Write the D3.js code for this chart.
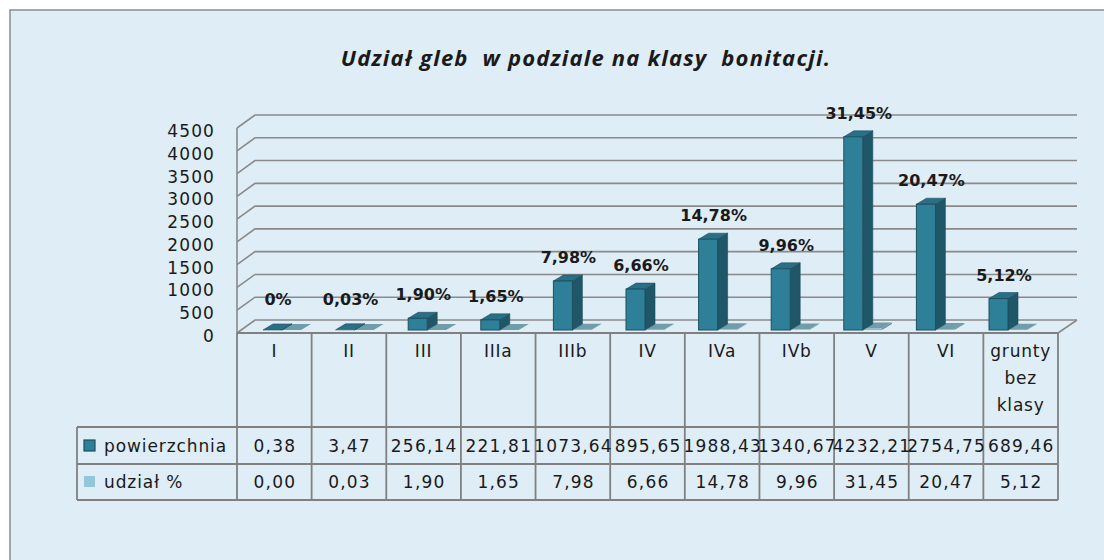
<!DOCTYPE html>
<html>
<head>
<meta charset="utf-8">
<script src="https://cdn.jsdelivr.net/npm/d3@7"></script>
<style>
body { margin: 0; background: #ffffff; }
text { font-family: "DejaVu Sans", sans-serif; fill: #1a1a1a; }
</style>
</head>
<body>
<script>
// chart data
const categories = ["I", "II", "III", "IIIa", "IIIb", "IV", "IVa", "IVb", "V", "VI", "grunty bez klasy"];
const powierzchnia = [0.38, 3.47, 256.14, 221.81, 1073.64, 895.65, 1988.43, 1340.67, 4232.21, 2754.75, 689.46];
const udzial = [0.00, 0.03, 1.90, 1.65, 7.98, 6.66, 14.78, 9.96, 31.45, 20.47, 5.12];
const yTicks = [0, 500, 1000, 1500, 2000, 2500, 3000, 3500, 4000, 4500];
const seriesNames = ["powierzchnia", "udział %"];

function d3Draw() {
const width = 1104;
const height = 560;

const pl = d3.formatLocale({decimal: ",", thousands: "", grouping: [3], currency: ["", ""]});
const f2 = pl.format(".2f");

const svg = d3
	.select("body")
	.append("svg")
	.attr("width", width)
	.attr("height", height);

// chart area background + frame
svg.append("rect")
	.attr("x", 10).attr("y", 10)
	.attr("width", width).attr("height", height)
	.attr("fill", "#deedf6")
	.attr("stroke", "#8c8c8c")
	.attr("stroke-width", 1.5);

svg.append("text")
	.attr("x", 586).attr("y", 66)
	.attr("text-anchor", "middle")
	.style("font-family", "'Open Sans', sans-serif")
	.style("font-size", "22px")
	.style("font-weight", "bold")
	.style("font-style", "italic")
	.style("letter-spacing", "1.2px")
	.attr("xml:space", "preserve")
	.text("Udział gleb  w podziale na klasy  bonitacji.");

// 3d box: front and back planes
const dx = 18, dy = 13;
const left = 237, right = 1058;
const yFront = d3.scaleLinear().domain([0, 4500]).range([333, 128]);
const yBack = d3.scaleLinear().domain([0, 4500]).range([333 - dy, 128 - dy]);
const yBar = d3.scaleLinear().domain([0, 4500]).range([330, 330 - 4500 * 0.04565]);

const xCol = d3.scaleBand().domain(categories).range([left, right]);
const xBar = d3.scaleBand().domain(categories).range([263, 263 + 11 * 72.6]);

const grid = svg.append("g")
	.attr("fill", "none")
	.attr("stroke", "#8a8a8a")
	.attr("stroke-width", 1.6);

grid.selectAll("path.grid")
	.data(yTicks)
	.enter()
	.append("path")
	.attr("class", "grid")
	.attr("d", function(d) {
		return "M" + left + "," + yFront(d) + "L" + (left + dx) + "," + yBack(d) + "L" + (right + dx + 1) + "," + yBack(d);
	});

grid.append("path")
	.attr("d", "M" + left + "," + yFront(4500) + "V" + yFront(0));
grid.append("path")
	.attr("d", "M" + right + "," + yFront(0) + "L" + (right + dx + 1) + "," + yBack(0));

svg.append("g")
	.selectAll("text")
	.data(yTicks)
	.enter()
	.append("text")
	.attr("x", 215)
	.attr("y", function(d) { return yFront(d) + 9; })
	.attr("text-anchor", "end")
	.style("font-size", "17px")
	.style("letter-spacing", "1.1px")
	.text(function(d) { return d; });

// bars
const bw = 19, bdx = 10, bdy = 6;
const bars = svg.append("g");

function box(g, x, v, cFront, cSide, cTop, stroke) {
	const y0 = yBar(0), y1 = yBar(v);
	g.append("path")
		.attr("d", "M" + (x + bw) + "," + y0 + "L" + (x + bw) + "," + y1 + "L" + (x + bw + bdx) + "," + (y1 - bdy) + "L" + (x + bw + bdx) + "," + (y0 - bdy) + "Z")
		.attr("fill", cSide).attr("stroke", stroke).attr("stroke-width", 0.6);
	g.append("path")
		.attr("d", "M" + x + "," + y1 + "L" + (x + bw) + "," + y1 + "L" + (x + bw + bdx) + "," + (y1 - bdy) + "L" + (x + bdx) + "," + (y1 - bdy) + "Z")
		.attr("fill", cTop).attr("stroke", stroke).attr("stroke-width", 0.6);
	if (y0 - y1 > 0.5) {
		g.append("rect")
			.attr("x", x).attr("y", y1)
			.attr("width", bw).attr("height", y0 - y1)
			.attr("fill", cFront).attr("stroke", stroke).attr("stroke-width", 1);
	}
}

categories.forEach(function(c, i) {
	const x = xBar(c);
	box(bars, x + bw, udzial[i], "#8fb9c4", "#5f8d99", "#6f9ea9", "none");
	box(bars, x, powierzchnia[i], "#2e8099", "#1f5768", "#296f86", "#1d4f5e");
});

// data labels (udział)
svg.append("g")
	.selectAll("text")
	.data(categories)
	.enter()
	.append("text")
	.attr("x", function(d) { return xBar(d) + 15; })
	.attr("y", function(d, i) { return Math.min(yBar(powierzchnia[i]) - 18, 305); })
	.attr("text-anchor", "middle")
	.style("font-size", "16px")
	.style("font-weight", "bold")
	.text(function(d, i) { return udzial[i] === 0 ? "0%" : f2(udzial[i]) + "%"; });

// data table
const rowTop = 333, rowHead = 427, rowA = 464, rowB = 500, legLeft = 77;
const table = svg.append("g")
	.attr("fill", "none")
	.attr("stroke", "#808080")
	.attr("stroke-width", 1.8);

table.append("path").attr("d", "M" + left + "," + rowTop + "H" + right);
[rowHead, rowA, rowB].forEach(function(y) {
	table.append("path").attr("d", "M" + legLeft + "," + y + "H" + right);
});
table.append("path").attr("d", "M" + legLeft + "," + rowHead + "V" + rowB);
table.selectAll("path.col")
	.data(categories.concat(["end"]))
	.enter()
	.append("path")
	.attr("class", "col")
	.attr("d", function(d) {
		const x = d === "end" ? right : xCol(d);
		return "M" + x + "," + rowTop + "V" + rowB;
	});

const head = svg.append("g");
categories.forEach(function(c) {
	const words = c.split(" ");
	words.forEach(function(w, j) {
		head.append("text")
			.attr("x", xCol(c) + xCol.bandwidth() / 2)
			.attr("y", 357 + j * 27)
			.attr("text-anchor", "middle")
			.style("font-size", "17px")
			.style("letter-spacing", "0.8px")
			.text(w);
	});
});

const rows = [powierzchnia, udzial];
const rowY = [452, 488];
rows.forEach(function(vals, r) {
	svg.append("g")
		.selectAll("text")
		.data(vals)
		.enter()
		.append("text")
		.attr("x", function(d, i) { return xCol(categories[i]) + xCol.bandwidth() / 2 + 0.6; })
		.attr("y", rowY[r])
		.attr("text-anchor", "middle")
		.style("font-size", "17px")
		.style("letter-spacing", "1.2px")
		.text(function(d) { return f2(d); });
});

// legend keys in the table
svg.append("rect")
	.attr("x", 84).attr("y", 440).attr("width", 11).attr("height", 11)
	.attr("fill", "#2e8099").attr("stroke", "#1d4f5e").attr("stroke-width", 1.2);
svg.append("rect")
	.attr("x", 84).attr("y", 476).attr("width", 11).attr("height", 11)
	.attr("fill", "#95c6d7");
svg.append("g")
	.selectAll("text")
	.data(seriesNames)
	.enter()
	.append("text")
	.attr("x", 104)
	.attr("y", function(d, i) { return rowY[i]; })
	.style("font-size", "17px")
	.style("letter-spacing", "0.9px")
	.text(function(d) { return d; });
}
window.onload = d3Draw;
</script>
</body>
</html>
